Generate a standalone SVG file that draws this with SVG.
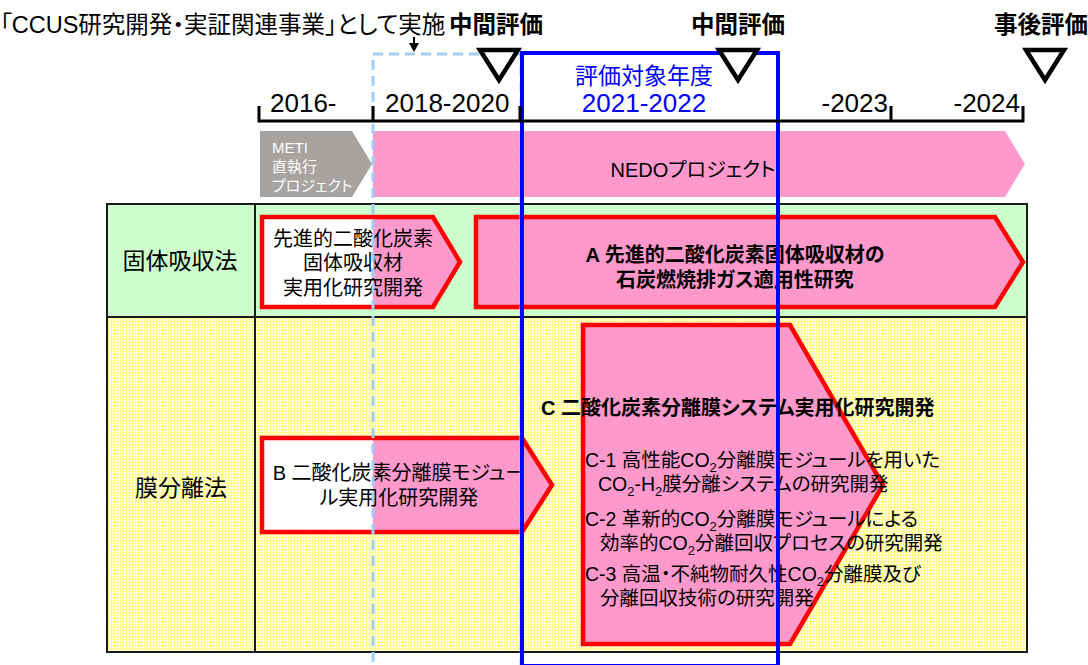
<svg xmlns="http://www.w3.org/2000/svg" width="1088" height="665" viewBox="0 0 1088 665">
<style>
text{font-family:"Liberation Sans","Noto Sans CJK JP",sans-serif;font-feature-settings:"palt";fill:#000}
.np{font-feature-settings:normal}
.b{font-weight:bold}
.red{stroke:#FF0000;stroke-width:4.5;stroke-linejoin:miter}
.tri{fill:#fff;stroke:#000;stroke-width:4.5;stroke-linejoin:miter}
.tick{stroke:#000;stroke-width:3;fill:none}
.grid{stroke:#1a1a1a;stroke-width:2;fill:none}
.yr{font-size:26px}
.body{font-size:20px}
.ci{font-size:19.5px}
.ev{font-size:23.5px;font-weight:bold}
</style>
<defs>
<pattern id="ygrid" width="3" height="3" patternUnits="userSpaceOnUse">
<rect width="3" height="3" fill="#FFFFE6"/>
<rect width="3" height="1" fill="#FFFA86"/>
<rect width="1" height="3" fill="#FFFA86"/>
</pattern>
<linearGradient id="halfpink" gradientUnits="userSpaceOnUse" x1="0" y1="0" x2="1088" y2="0">
<stop offset="0" stop-color="#FFFFFF"/>
<stop offset="0.3428" stop-color="#FFFFFF"/>
<stop offset="0.3428" stop-color="#FF99CC"/>
<stop offset="1" stop-color="#FF99CC"/>
</linearGradient>
<marker id="ah" markerWidth="10" markerHeight="10" refX="2" refY="5" orient="auto" markerUnits="userSpaceOnUse">
<path d="M0,0 L9,5 L0,10 z" fill="#000"/>
</marker>
</defs>
<rect width="1088" height="665" fill="#fff"/>

<g id="header">
<text x="0" y="33" style="font-size:23.5px">「CCUS研究開発・実証関連事業」として実施</text>
<text x="449" y="33" class="ev">中間評価</text>
<text x="738" y="33" class="ev" text-anchor="middle">中間評価</text>
<text x="1088" y="33" class="ev" text-anchor="end">事後評価</text>
</g>

<g id="table">
<rect x="107" y="204" width="920" height="113" fill="#CCFFCC"/>
<rect x="107" y="317" width="920" height="335" fill="url(#ygrid)"/>
<rect x="107" y="204" width="920" height="448" class="grid"/>
<line x1="107" y1="317" x2="1027" y2="317" class="grid"/>
<line x1="255" y1="204" x2="255" y2="652" class="grid"/>
<text x="180" y="269" text-anchor="middle" style="font-size:23px">固体吸収法</text>
<text x="181" y="496" text-anchor="middle" style="font-size:23px">膜分離法</text>
</g>

<g id="meti">
<polygon points="260,131 352,131 372,164 352,197 260,197" fill="#A6A3A1"/>
<text x="272" y="153" style="font-size:15px;fill:#fff">METI</text>
<text x="272" y="172" style="font-size:15px;fill:#fff">直執行</text>
<text x="272" y="191" style="font-size:15px;fill:#fff">プロジェクト</text>
</g>

<g id="nedo">
<polygon points="373,131 1005,131 1025,164 1005,197 373,197" fill="#FF99CC"/>
<text x="693" y="177" text-anchor="middle" style="font-size:20px">NEDOプロジェクト</text>
</g>

<g id="node-solid">
<polygon points="262,217 433,217 460,262 433,307 262,307" fill="url(#halfpink)" class="red"/>
<text x="353" y="246" text-anchor="middle" class="body">先進的二酸化炭素</text>
<text x="353" y="270" text-anchor="middle" class="body">固体吸収材</text>
<text x="353" y="295" text-anchor="middle" class="body">実用化研究開発</text>
</g>

<g id="node-A">
<polygon points="476,217 995,217 1023,262 995,307 476,307" fill="#FF99CC" class="red"/>
<text x="735" y="262" text-anchor="middle" class="b" style="font-size:20px">A 先進的二酸化炭素固体吸収材の</text>
<text x="735" y="287" text-anchor="middle" class="b" style="font-size:20px">石炭燃焼排ガス適用性研究</text>
</g>

<g id="node-B">
<polygon points="262,438 522,438 552,485 522,532 262,532" fill="url(#halfpink)" class="red"/>
<text x="399" y="480" text-anchor="middle" class="body">B 二酸化炭素分離膜モジュー</text>
<text x="399" y="505" text-anchor="middle" class="body">ル実用化研究開発</text>
</g>

<g id="node-C">
<polygon points="583,325 790,325 883,485 790,644 583,644" fill="#FF99CC" class="red"/>
<text x="541" y="415" class="b" style="font-size:20px">C 二酸化炭素分離膜システム実用化研究開発</text>
<text x="585" y="467" class="ci">C-1 高性能CO<tspan font-size="13" dy="5">2</tspan><tspan dy="-5">分離膜モジュールを用いた</tspan></text>
<text x="598" y="491" class="ci">CO<tspan font-size="13" dy="5">2</tspan><tspan dy="-5">-H</tspan><tspan font-size="13" dy="5">2</tspan><tspan dy="-5">膜分離システムの研究開発</tspan></text>
<text x="585" y="526" class="ci">C-2 革新的CO<tspan font-size="13" dy="5">2</tspan><tspan dy="-5">分離膜モジュールによる</tspan></text>
<text x="600" y="550" class="ci">効率的CO<tspan font-size="13" dy="5">2</tspan><tspan dy="-5">分離回収プロセスの研究開発</tspan></text>
<text x="585" y="581" class="ci">C-3 高温・不純物耐久性CO<tspan font-size="13" dy="5">2</tspan><tspan dy="-5">分離膜及び</tspan></text>
<text x="600" y="605" class="ci">分離回収技術の研究開発</text>
</g>

<g id="prior-period">
<rect x="373" y="54" width="148" height="620" fill="none" stroke="#A3CDF5" stroke-width="3" stroke-dasharray="10,6"/>
</g>

<g id="eval-period">
<rect x="522" y="53" width="256" height="613" fill="none" stroke="#0000FF" stroke-width="4"/>
<text x="644" y="84" text-anchor="middle" class="np" style="font-size:23px;fill:#0000FF">評価対象年度</text>
<text x="644" y="112" text-anchor="middle" class="yr" style="fill:#0000FF">2021-2022</text>
</g>

<g id="timeline">
<path d="M259,106 V121 H1023 V106 M373,106 V121 M520,106 V121 M891,106 V121" class="tick"/>
<text x="270" y="112" class="yr">2016-</text>
<text x="385" y="112" class="yr">2018-2020</text>
<text x="888" y="112" class="yr" text-anchor="end">-2023</text>
<text x="1020" y="112" class="yr" text-anchor="end">-2024</text>
</g>

<g id="milestones">
<polygon points="480,50 518,50 499,80" class="tri"/>
<polygon points="719,50 757,50 738,80" class="tri"/>
<polygon points="1026,50 1064,50 1045,80" class="tri"/>
</g>

<g id="connectors">
<line x1="414" y1="37" x2="414" y2="45" stroke="#000" stroke-width="2" marker-end="url(#ah)"/>
</g>
</svg>
